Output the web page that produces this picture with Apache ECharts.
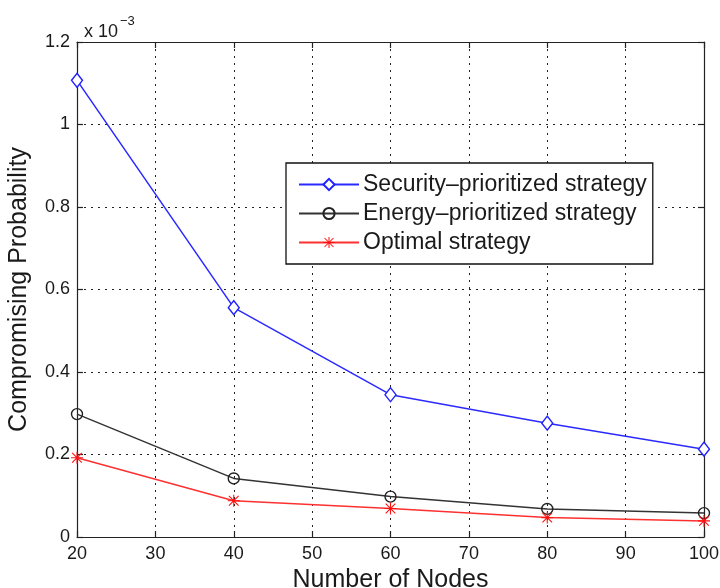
<!DOCTYPE html>
<html>
<head>
<meta charset="utf-8">
<script src="https://cdn.jsdelivr.net/npm/echarts@6/dist/echarts.min.js"></script>
<style>
  html, body { margin: 0; padding: 0; background: #fff; }
  #chart { width: 720px; height: 588px; }
</style>
</head>
<body>
<div id="chart"></div>
<script>
// Number of nodes in the network
const nodeCounts = [20, 40, 60, 80, 100];
// Compromising probability, in units of 1e-3
const securityPrioritized = [1.107, 0.556, 0.345, 0.276, 0.213];
const energyPrioritized = [0.298, 0.142, 0.098, 0.068, 0.058];
const optimalStrategy = [0.192, 0.088, 0.069, 0.047, 0.039];

const xTicks = [20, 30, 40, 50, 60, 70, 80, 90, 100];
const yTicks = [0, 0.2, 0.4, 0.6, 0.8, 1, 1.2];

const seriesNames = ['Security\u2013prioritized strategy', 'Energy\u2013prioritized strategy', 'Optimal strategy'];

const FONT = 'Liberation Sans, Arial, Helvetica, sans-serif';
const INK = '#1a1a1a';
const asterisk = 'path://M4.55,0 h0.9 v10 h-0.9z M0,4.55 h10 v0.9 h-10z M1.3,0.66 L9.34,8.7 L8.7,9.34 L0.66,1.3z M8.7,0.66 L9.34,1.3 L1.3,9.34 L0.66,8.7z';

const pairs = vals => nodeCounts.map((n, i) => [n, vals[i]]);

const gridLine = { show: true, lineStyle: { color: '#222', width: 1, type: [2, 5] } };
const frameLine = { show: true, onZero: false, lineStyle: { color: '#222', width: 1.2 } };
const innerTick = { show: true, inside: true, length: 6, lineStyle: { color: '#222', width: 1.2 } };

const chart = echarts.init(document.getElementById('chart'), null, { renderer: 'canvas' });
chart.setOption({
  animation: false,
  backgroundColor: '#fff',
  grid: { left: 77, right: 16, top: 42, bottom: 51, show: false, containLabel: false, outerBoundsMode: 'none' },
  title: {
    text: '{a|x 10}{b|\u22123}',
    left: 79, top: 10,
    textStyle: {
      rich: {
        a: { fontFamily: FONT, fontSize: 18, fontWeight: 'normal', color: INK, padding: [8, 0, 0, 0] },
        b: { fontFamily: FONT, fontSize: 13, fontWeight: 'normal', color: INK, verticalAlign: 'top', padding: [0, 0, 0, 2] }
      }
    }
  },
  legend: {
    left: 286, top: 163,
    orient: 'vertical',
    backgroundColor: '#fff',
    borderColor: '#111', borderWidth: 1.3,
    padding: [10, 6, 10, 12],
    itemGap: 6,
    itemWidth: 60, itemHeight: 14,
    textStyle: { fontFamily: FONT, fontSize: 23, color: INK, padding: [0, 0, 0, -1] },
    data: seriesNames
  },
  xAxis: [
    {
      type: 'value', min: 20, max: 100, interval: 10, position: 'bottom',
      name: 'Number of Nodes', nameLocation: 'middle', nameGap: 24,
      nameTextStyle: { fontFamily: FONT, fontSize: 25, color: INK },
      axisLine: frameLine,
      axisTick: innerTick,
      axisLabel: { fontFamily: FONT, fontSize: 18, color: INK, margin: 8, formatter: v => xTicks.includes(v) ? String(v) : '' },
      splitLine: gridLine
    },
    {
      type: 'value', min: 20, max: 100, interval: 10, position: 'top',
      axisLine: frameLine, axisTick: innerTick,
      axisLabel: { show: false }, splitLine: { show: false }
    }
  ],
  yAxis: [
    {
      type: 'value', min: 0, max: 1.2, interval: 0.2, position: 'left',
      name: 'Compromising Probability', nameLocation: 'middle', nameGap: 45, nameRotate: 90,
      nameTextStyle: { fontFamily: FONT, fontSize: 25, color: INK },
      axisLine: frameLine,
      axisTick: innerTick,
      axisLabel: {
        fontFamily: FONT, fontSize: 18, color: INK, margin: 7,
        formatter: v => {
          const t = yTicks.find(y => Math.abs(y - v) < 1e-9);
          return t === undefined ? '' : String(t);
        }
      },
      splitLine: gridLine
    },
    {
      type: 'value', min: 0, max: 1.2, interval: 0.2, position: 'right',
      axisLine: frameLine, axisTick: innerTick,
      axisLabel: { show: false }, splitLine: { show: false }
    }
  ],
  series: [
    {
      name: seriesNames[0], type: 'line', data: pairs(securityPrioritized),
      symbol: 'diamond', symbolSize: [11, 14], showAllSymbol: true,
      itemStyle: { color: '#fff', borderColor: '#2222ff', borderWidth: 1.4 },
      lineStyle: { color: '#2a2aff', width: 1.5 },
      z: 3
    },
    {
      name: seriesNames[1], type: 'line', data: pairs(energyPrioritized),
      symbol: 'circle', symbolSize: 11, showAllSymbol: true,
      itemStyle: { color: 'rgba(255,255,255,0)', borderColor: '#222', borderWidth: 1.4 },
      lineStyle: { color: '#333', width: 1.5 },
      z: 2
    },
    {
      name: seriesNames[2], type: 'line', data: pairs(optimalStrategy),
      symbol: asterisk, symbolSize: 12, showAllSymbol: true,
      itemStyle: { color: '#ff1010', borderWidth: 0 },
      lineStyle: { color: '#ff3030', width: 1.5 },
      z: 4
    }
  ]
});
</script>
</body>
</html>
